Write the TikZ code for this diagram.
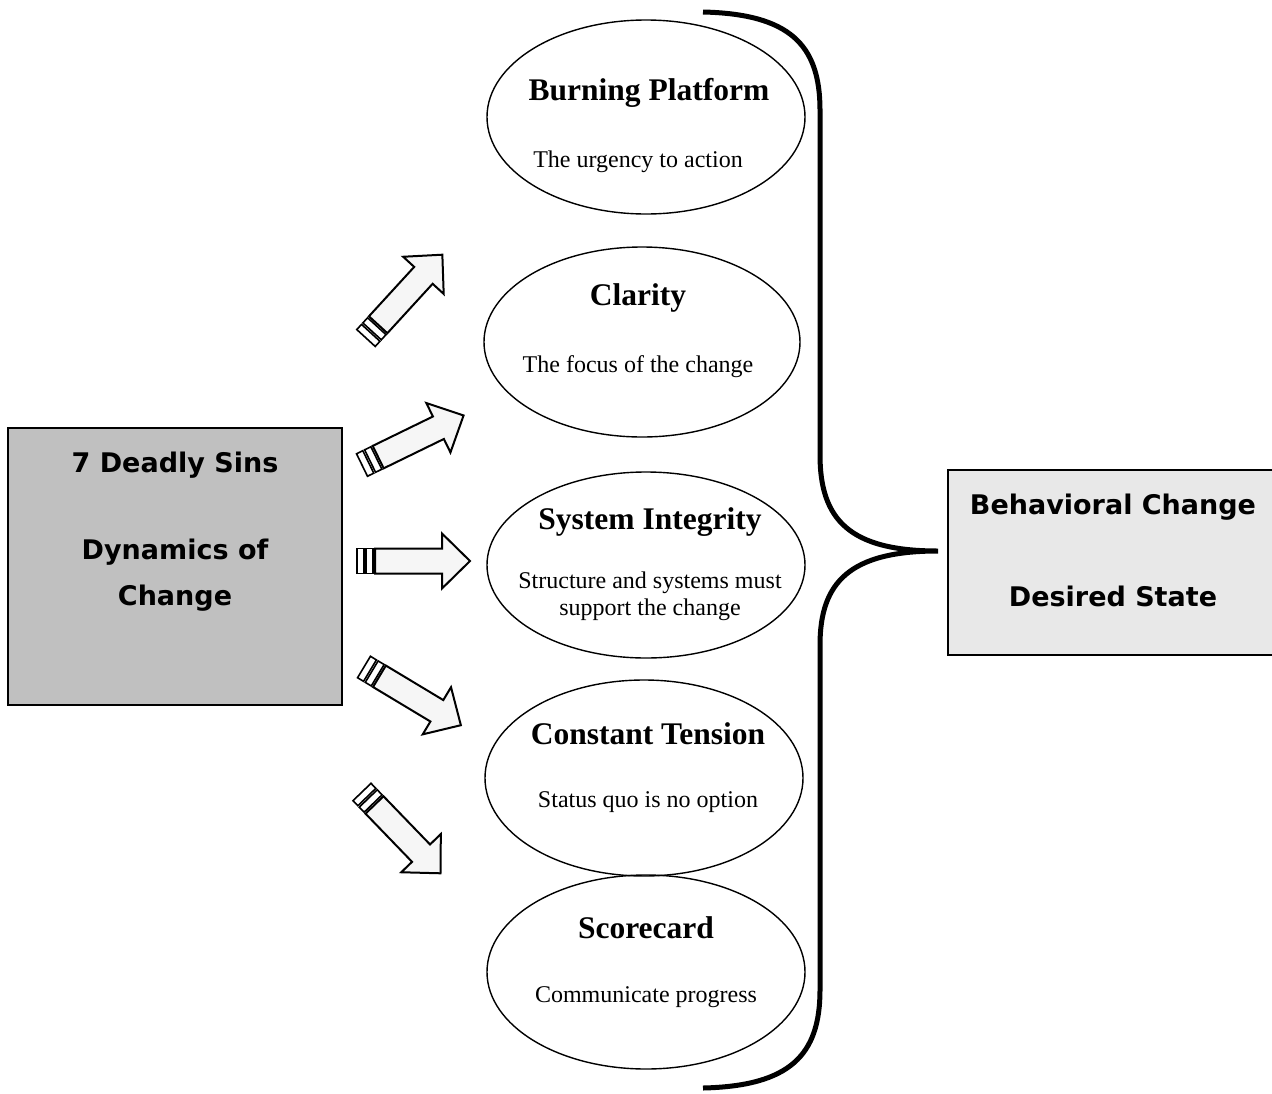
\documentclass[tikz,border=0pt]{standalone}
\usepackage{fontspec}
\setmainfont{Liberation Serif}
\newfontfamily\boxfont{DejaVu Sans}
\usetikzlibrary{shapes.geometric}
\definecolor{darkbox}{HTML}{C0C0C0}
\definecolor{lightbox}{HTML}{E8E8E8}
\definecolor{arrowfill}{HTML}{F6F6F6}
\tikzset{
  oval/.style={draw=black, line width=1.4pt, ellipse, inner sep=0pt},
  ttl/.style={font=\fontsize{31.5}{36}\selectfont\bfseries},
  sub/.style={font=\fontsize{24}{27}\selectfont, align=center},
  boxtxt/.style={font=\boxfont\bfseries\fontsize{27}{32}\selectfont, align=center},
  sqbox/.style={draw=black, line width=1.8pt},
  barrow/.style={draw=black, line width=2pt, fill=arrowfill, line join=miter},
  stripe/.style={draw=black, line width=1.6pt, fill=white},
  brace/.style={draw=black, line width=5pt}
}
\newcommand\stripearrow[2]{%
  \begin{scope}[shift={(#1)}, rotate=#2]
    \draw[stripe] (0,-12.5) rectangle (7,12.5);
    \draw[stripe] (9,-12.5) rectangle (16,12.5);
    \draw[barrow] (18,-12.5) -- (85,-12.5) -- (85,-27.5) -- (113,0) -- (85,27.5) -- (85,12.5) -- (18,12.5) -- cycle;
  \end{scope}}
\begin{document}
\begin{tikzpicture}[x=1pt,y=-1pt]
\useasboundingbox (0,0) rectangle (1272,1093);
% boxes
\path[sqbox, fill=darkbox] (8,428) rectangle (342,705);
\node[boxtxt] (sins) at (175,465) {7 Deadly Sins};
\node[boxtxt] (dyn) at (175,552) {Dynamics of};
\node[boxtxt] (chg) at (175,598) {Change};
\path[sqbox, fill=lightbox] (948,470) rectangle (1290,655);
\node[boxtxt] (beh) at (1113,507) {Behavioral Change};
\node[boxtxt] (des) at (1113,596) {Desired State};
% ellipses
\node[oval, minimum width=318pt, minimum height=194pt] (e1) at (646,117) {};
\node[oval, minimum width=316pt, minimum height=190pt] (e2) at (642,342) {};
\node[oval, minimum width=318pt, minimum height=186pt] (e3) at (646,565) {};
\node[oval, minimum width=318pt, minimum height=196pt] (e4) at (644,778) {};
\node[oval, minimum width=318pt, minimum height=194pt] (e5) at (646,972) {};
\node[ttl] (t1) at (649,93) {Burning Platform};
\node[sub] (s1) at (638,162) {The urgency to action};
\node[ttl] (t2) at (638,298) {Clarity};
\node[sub] (s2) at (638,367) {The focus of the change};
\node[ttl] (t3) at (650,522) {System Integrity};
\node[sub] (s3) at (650,596) {Structure and systems must\\support the change};
\node[ttl] (t4) at (648,734) {Constant Tension};
\node[sub] (s4) at (648,802) {Status quo is no option};
\node[ttl] (t5) at (646,928) {Scorecard};
\node[sub] (s5) at (646,997) {Communicate progress};
% brace
\coordinate (btop) at (703,12);
\coordinate (btip) at (938,551);
\coordinate (bbot) at (703,1088);
\draw[brace] (btop) .. controls (790,14) and (820,45) .. (820,110) -- (820,455)
  .. controls (820,520) and (850,551) .. (btip)
  .. controls (850,551) and (820,582) .. (820,645) -- (820,990)
  .. controls (820,1055) and (790,1086) .. (bbot);
% arrows
\coordinate (a1) at (366,338);
\coordinate (a2) at (362,465);
\coordinate (a3) at (357,561);
\coordinate (a4) at (364,667);
\coordinate (a5) at (362,792);
\stripearrow{a1}{47.5}
\stripearrow{a2}{26}
\stripearrow{a3}{0}
\stripearrow{a4}{-31}
\stripearrow{a5}{-46}
\end{tikzpicture}
\end{document}
